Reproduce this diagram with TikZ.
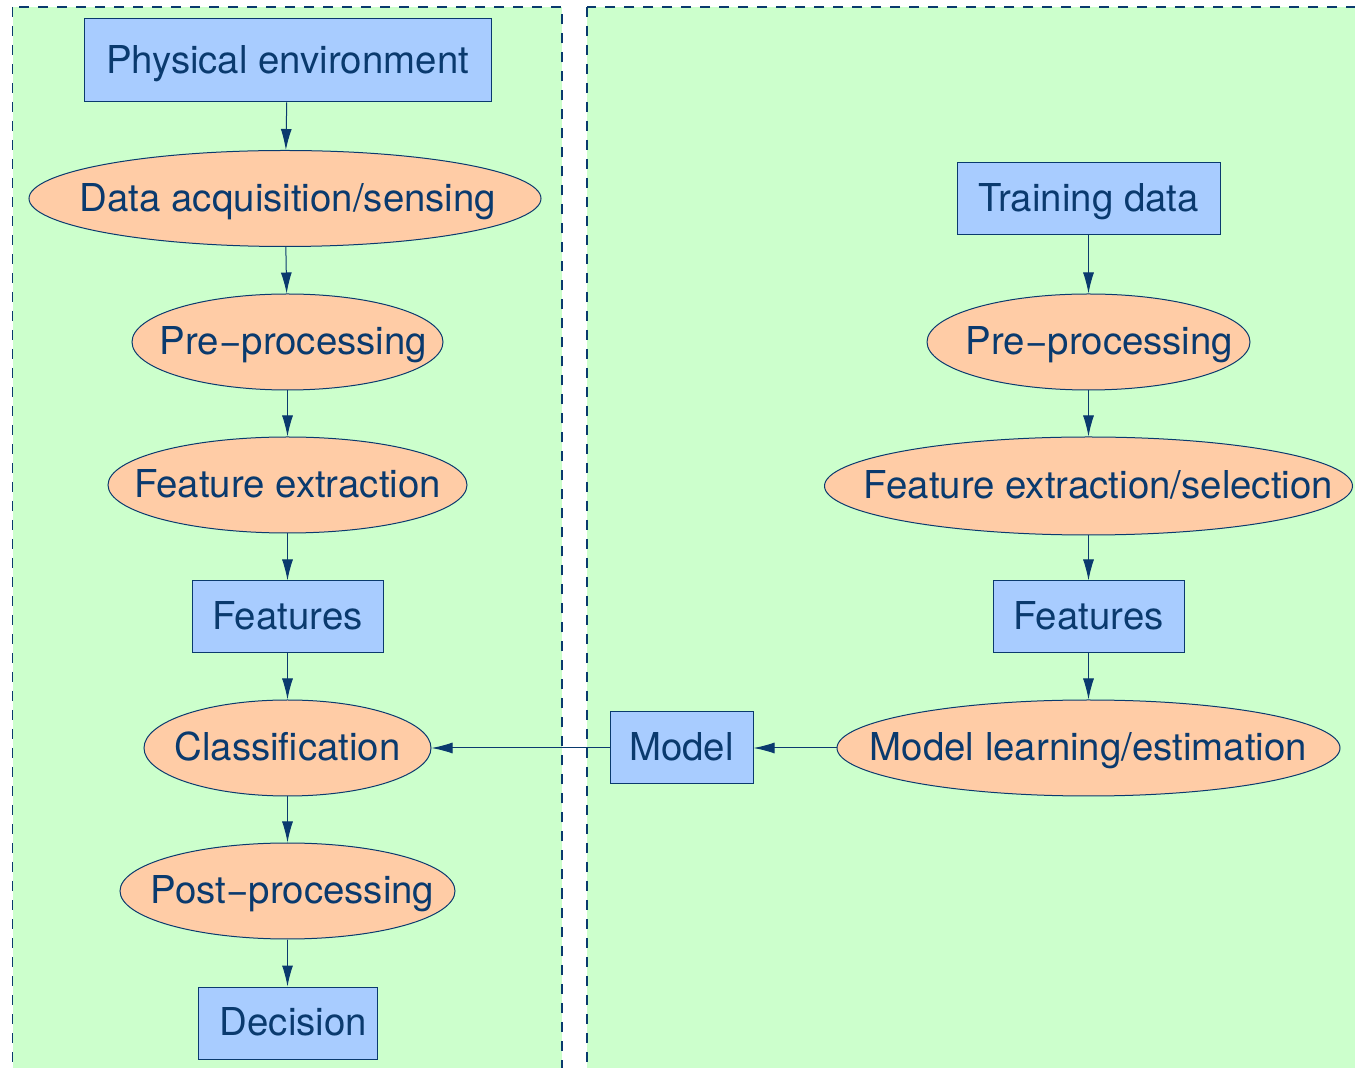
\documentclass[tikz,border=0pt]{standalone}
\usepackage{fontspec}
\setmainfont{TeX Gyre Heros}
\usetikzlibrary{positioning, shapes, arrows.meta}
\definecolor{panelgreen}{HTML}{CCFFCC}
\definecolor{boxblue}{HTML}{A8CCFF}
\definecolor{stagepeach}{HTML}{FFCCA6}
\definecolor{inkblue}{HTML}{0A3A6E}

\begin{document}
\begin{tikzpicture}[x=0.5pt, y=-0.5pt, ->, >={Latex[length=10.5pt,width=5.5pt]},
    line width=0.5pt, draw=inkblue, text=inkblue,
    font=\fontsize{19.2}{22}\selectfont,
    panel/.style={draw=inkblue, fill=panelgreen, line width=0.75pt, dash pattern=on 5pt off 4.5pt},
    nudge/.store in=\textnudge,
    label box/.style={inner sep=0pt, text height=13.4pt, text depth=0.6pt, nudge=0pt,
      execute at begin node={\hbox to 0pt\bgroup\hss\hskip\textnudge},
      execute at end node={\hss\egroup}},
    store/.style={rectangle, draw=inkblue, fill=boxblue, label box, minimum height=36pt},
    stage/.style={ellipse, draw=inkblue, fill=stagepeach, label box, minimum height=48pt}]
  \useasboundingbox (0,0) rectangle (1355,1068);
  \clip (0,0) rectangle (1355,1068);

  % the two panels
  \path[-, panel] (12.5,7) rectangle (562,1090);
  \path[-, panel] (587,7) rectangle (1380,1090);

  % recognition side
  \node[store, minimum width=203.5pt, minimum height=41.5pt] (env) at (287.5,60.5) {Physical environment};
  \node[stage, minimum width=256pt, nudge=3pt] (acq) at (285,198.5) {Data acquisition/sensing};
  \node[stage, minimum width=155.5pt, nudge=6pt] (prel) at (287.5,342) {Pre−processing};
  \node[stage, minimum width=179.5pt] (featl) at (287.5,485) {Feature extraction};
  \node[store, minimum width=95.5pt] (featsl) at (287.5,617) {Features};
  \node[stage, minimum width=143.5pt] (clas) at (287.5,748) {Classification};
  \node[stage, minimum width=167.5pt, nudge=5pt] (post) at (287.5,891) {Post−processing};
  \node[store, minimum width=89.5pt, nudge=6pt] (dec) at (287.5,1023) {Decision};

  % training side
  \node[store, minimum width=131.5pt] (train) at (1088.5,198.5) {Training data};
  \node[stage, minimum width=161.5pt, nudge=11pt] (prer) at (1088.5,342) {Pre−processing};
  \node[stage, minimum width=264pt, minimum height=49pt, nudge=10pt] (featr) at (1088.5,486) {Feature extraction/selection};
  \node[store, minimum width=95.5pt] (featsr) at (1088.5,617) {Features};
  \node[stage, minimum width=251.5pt] (learn) at (1088.5,748) {Model learning/estimation};
  \node[store, minimum width=71.5pt] (model) at (681.5,748) {Model};

  \path
    (env) edge (acq)
    (acq) edge (prel)
    (prel) edge (featl)
    (featl) edge (featsl)
    (featsl) edge (clas)
    (clas) edge (post)
    (post) edge (dec)
    (train) edge (prer)
    (prer) edge (featr)
    (featr) edge (featsr)
    (featsr) edge (learn)
    (learn) edge (model)
    (model) edge (clas);
\end{tikzpicture}
\end{document}
